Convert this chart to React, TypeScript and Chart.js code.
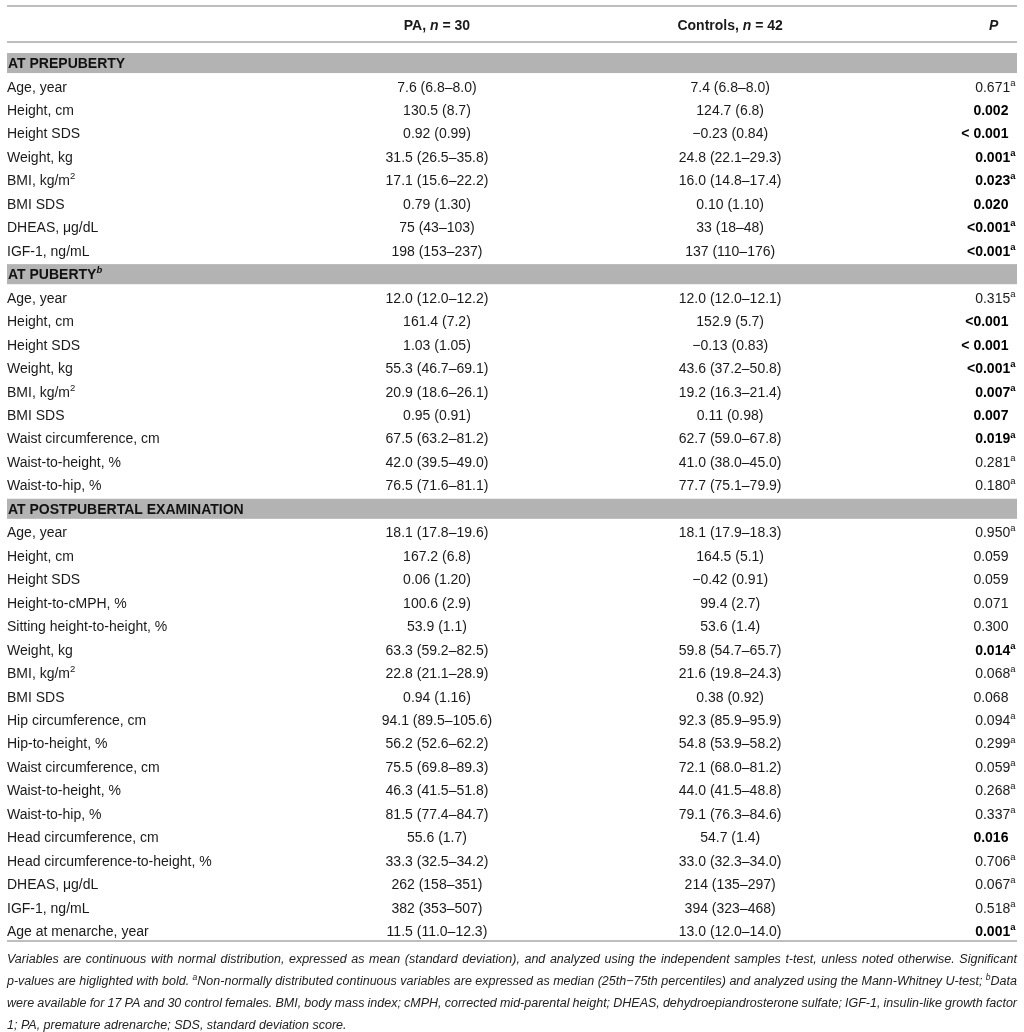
import React, { useEffect, useRef } from "react";
import { Chart, registerables } from "chart.js";

Chart.register(...registerables);

// ---------- data ----------
const columnHeaders = ["PA, _n_ = 30", "Controls, _n_ = 42", "_P_"];

const sectionTitles = ["AT PREPUBERTY", "AT PUBERTY^b", "AT POSTPUBERTAL EXAMINATION"];
const sectionSizes = [8, 9, 18];

const variables = [
  "Age, year", "Height, cm", "Height SDS", "Weight, kg", "BMI, kg/m^2", "BMI SDS", "DHEAS, μg/dL", "IGF-1, ng/mL",
  "Age, year", "Height, cm", "Height SDS", "Weight, kg", "BMI, kg/m^2", "BMI SDS", "Waist circumference, cm", "Waist-to-height, %", "Waist-to-hip, %",
  "Age, year", "Height, cm", "Height SDS", "Height-to-cMPH, %", "Sitting height-to-height, %", "Weight, kg", "BMI, kg/m^2", "BMI SDS",
  "Hip circumference, cm", "Hip-to-height, %", "Waist circumference, cm", "Waist-to-height, %", "Waist-to-hip, %", "Head circumference, cm",
  "Head circumference-to-height, %", "DHEAS, μg/dL", "IGF-1, ng/mL", "Age at menarche, year",
];

const paValues = [
  "7.6 (6.8–8.0)", "130.5 (8.7)", "0.92 (0.99)", "31.5 (26.5–35.8)", "17.1 (15.6–22.2)", "0.79 (1.30)", "75 (43–103)", "198 (153–237)",
  "12.0 (12.0–12.2)", "161.4 (7.2)", "1.03 (1.05)", "55.3 (46.7–69.1)", "20.9 (18.6–26.1)", "0.95 (0.91)", "67.5 (63.2–81.2)", "42.0 (39.5–49.0)", "76.5 (71.6–81.1)",
  "18.1 (17.8–19.6)", "167.2 (6.8)", "0.06 (1.20)", "100.6 (2.9)", "53.9 (1.1)", "63.3 (59.2–82.5)", "22.8 (21.1–28.9)", "0.94 (1.16)",
  "94.1 (89.5–105.6)", "56.2 (52.6–62.2)", "75.5 (69.8–89.3)", "46.3 (41.5–51.8)", "81.5 (77.4–84.7)", "55.6 (1.7)",
  "33.3 (32.5–34.2)", "262 (158–351)", "382 (353–507)", "11.5 (11.0–12.3)",
];

const controlValues = [
  "7.4 (6.8–8.0)", "124.7 (6.8)", "−0.23 (0.84)", "24.8 (22.1–29.3)", "16.0 (14.8–17.4)", "0.10 (1.10)", "33 (18–48)", "137 (110–176)",
  "12.0 (12.0–12.1)", "152.9 (5.7)", "−0.13 (0.83)", "43.6 (37.2–50.8)", "19.2 (16.3–21.4)", "0.11 (0.98)", "62.7 (59.0–67.8)", "41.0 (38.0–45.0)", "77.7 (75.1–79.9)",
  "18.1 (17.9–18.3)", "164.5 (5.1)", "−0.42 (0.91)", "99.4 (2.7)", "53.6 (1.4)", "59.8 (54.7–65.7)", "21.6 (19.8–24.3)", "0.38 (0.92)",
  "92.3 (85.9–95.9)", "54.8 (53.9–58.2)", "72.1 (68.0–81.2)", "44.0 (41.5–48.8)", "79.1 (76.3–84.6)", "54.7 (1.4)",
  "33.0 (32.3–34.0)", "214 (135–297)", "394 (323–468)", "13.0 (12.0–14.0)",
];

const pValues = [
  "0.671", "0.002", "< 0.001", "0.001", "0.023", "0.020", "<0.001", "<0.001",
  "0.315", "<0.001", "< 0.001", "<0.001", "0.007", "0.007", "0.019", "0.281", "0.180",
  "0.950", "0.059", "0.059", "0.071", "0.300", "0.014", "0.068", "0.068",
  "0.094", "0.299", "0.059", "0.268", "0.337", "0.016",
  "0.706", "0.067", "0.518", "0.001",
];

const pSuperscripts = [
  "a", "", "", "a", "a", "", "a", "a",
  "a", "", "", "a", "a", "", "a", "a", "a",
  "a", "", "", "", "", "a", "a", "",
  "a", "a", "a", "a", "a", "",
  "a", "a", "a", "a",
];

const pSignificant = [
  false, true, true, true, true, true, true, true,
  false, true, true, true, true, true, true, false, false,
  false, false, false, false, false, true, false, false,
  false, false, false, false, false, true,
  false, false, false, true,
];

const footnoteLines = [
  "Variables are continuous with normal distribution, expressed as mean (standard deviation), and analyzed using the independent samples t-test, unless noted otherwise. Significant",
  "p-values are higlighted with bold. ^aNon-normally distributed continuous variables are expressed as median (25th−75th percentiles) and analyzed using the Mann-Whitney U-test; ^bData",
  "were available for 17 PA and 30 control females. BMI, body mass index; cMPH, corrected mid-parental height; DHEAS, dehydroepiandrosterone sulfate; IGF-1, insulin-like growth factor",
  "1; PA, premature adrenarche; SDS, standard deviation score.",
];

// ---------- layout / style ----------
const FAMILY = '"Liberation Sans", Arial, Helvetica, sans-serif';
const TEXT = "#1a1a1a";
const RULE = "#a8a8a8";
const BAND = "#b3b3b3";
const BODY_SIZE = 14;
const FOOT_SIZE = 12.5;
// column anchors as fractions of the table width (x scale 0..1)
const COL_PA = 0.4257;
const COL_CTRL = 0.716;
const COL_P_HEADER = 0.977;
const COL_P_RIGHT = 0.9985;
const COL_P_RIGHT_NOSUP = 0.9915;

type Seg = { text: string; italic: boolean; sup: boolean };

function parseRich(s: string, baseItalic = false): Seg[] {
  const segs: Seg[] = [];
  let italic = baseItalic;
  let buf = "";
  const flush = () => {
    if (buf) segs.push({ text: buf, italic, sup: false });
    buf = "";
  };
  for (let i = 0; i < s.length; i++) {
    const c = s[i];
    if (c === "_") {
      flush();
      italic = !italic;
    } else if (c === "^" && i + 1 < s.length) {
      flush();
      segs.push({ text: s[i + 1], italic, sup: true });
      i++;
    } else buf += c;
  }
  flush();
  return segs;
}

function fontStr(size: number, bold: boolean, italic: boolean) {
  return `${italic ? "italic " : ""}${bold ? "bold " : ""}${size}px ${FAMILY}`;
}

function segSize(size: number, sup: boolean) {
  return sup ? Math.round(size * 0.68 * 10) / 10 : size;
}

function measureRich(ctx: CanvasRenderingContext2D, segs: Seg[], size: number, bold: boolean) {
  let w = 0;
  for (const s of segs) {
    ctx.font = fontStr(segSize(size, s.sup), bold, s.italic);
    w += ctx.measureText(s.text).width;
  }
  return w;
}

function drawRich(
  ctx: CanvasRenderingContext2D,
  segs: Seg[],
  x: number,
  y: number,
  size: number,
  bold: boolean,
  align: "left" | "center" | "right"
) {
  const w = measureRich(ctx, segs, size, bold);
  let cx = align === "left" ? x : align === "center" ? x - w / 2 : x - w;
  ctx.textAlign = "left";
  ctx.textBaseline = "alphabetic";
  for (const s of segs) {
    ctx.font = fontStr(segSize(size, s.sup), bold, s.italic);
    const yy = s.sup ? y - size * 0.42 : y;
    ctx.fillText(s.text, cx, yy);
    cx += ctx.measureText(s.text).width;
  }
  return w;
}

const tablePlugin = {
  id: "tablePlugin",
  afterDraw(chart: any) {
    const ctx: CanvasRenderingContext2D = chart.ctx;
    const xs = chart.scales.x;
    const ys = chart.scales.y;
    const area = chart.chartArea;
    const rows: any[] = chart.data.rows;
    const left = xs.getPixelForValue(0);
    const right = xs.getPixelForValue(1);
    const rowH = ys.getPixelForValue(1) - ys.getPixelForValue(0);
    const base = BODY_SIZE * 0.36; // baseline offset from row center

    ctx.save();
    ctx.fillStyle = "#ffffff";
    ctx.fillRect(0, 0, chart.width, chart.height);

    // rules
    ctx.strokeStyle = RULE;
    ctx.lineWidth = 1.6;
    const hline = (y: number) => {
      ctx.beginPath();
      ctx.moveTo(left, y);
      ctx.lineTo(right, y);
      ctx.stroke();
    };
    hline(area.top - 45.3);
    hline(area.top - 9.3);
    hline(area.bottom - 1.8);

    // header
    ctx.fillStyle = TEXT;
    const headY = area.top - 26 + base;
    drawRich(ctx, parseRich(columnHeaders[0]), xs.getPixelForValue(COL_PA), headY, BODY_SIZE, true, "center");
    drawRich(ctx, parseRich(columnHeaders[1]), xs.getPixelForValue(COL_CTRL), headY, BODY_SIZE, true, "center");
    drawRich(ctx, parseRich(columnHeaders[2]), xs.getPixelForValue(COL_P_HEADER), headY, BODY_SIZE, true, "center");

    rows.forEach((r, i) => {
      const cy = ys.getPixelForValue(i);
      const y = cy + base;
      if (r.kind === "section") {
        ctx.fillStyle = BAND;
        ctx.fillRect(left, cy - rowH / 2 + 1.7, right - left, rowH - 3.4);
        ctx.fillStyle = "#111";
        const segs = parseRich(r.title).map((s) => (s.sup ? { ...s, italic: true } : s));
        drawRich(ctx, segs, left + 1, y, BODY_SIZE, true, "left");
        return;
      }
      ctx.fillStyle = TEXT;
      drawRich(ctx, parseRich(r.label), left, y, BODY_SIZE, false, "left");
      drawRich(ctx, parseRich(r.pa), xs.getPixelForValue(COL_PA), y, BODY_SIZE, false, "center");
      drawRich(ctx, parseRich(r.ctrl), xs.getPixelForValue(COL_CTRL), y, BODY_SIZE, false, "center");
      const pText = r.p + (r.sup ? "^" + r.sup : "");
      const px = xs.getPixelForValue(r.sup ? COL_P_RIGHT : COL_P_RIGHT_NOSUP);
      ctx.fillStyle = r.bold ? "#000" : TEXT;
      drawRich(ctx, parseRich(pText), px, y, BODY_SIZE, r.bold, "right");
    });

    // footnote (justified)
    ctx.fillStyle = "#222";
    const width = right - left;
    footnoteLines.forEach((line, li) => {
      const fy = area.bottom + 16 + li * 22 + FOOT_SIZE * 0.36;
      const words = line.split(" ").map((w) => parseRich(w, true));
      const last = li === footnoteLines.length - 1;
      if (last) {
        drawRich(ctx, parseRich(line, true), left, fy, FOOT_SIZE, false, "left");
        return;
      }
      const widths = words.map((w) => measureRich(ctx, w, FOOT_SIZE, false));
      const total = widths.reduce((a, b) => a + b, 0);
      const gap = (width - total) / (words.length - 1);
      let x = left;
      words.forEach((w, wi) => {
        drawRich(ctx, w, x, fy, FOOT_SIZE, false, "left");
        x += widths[wi] + gap;
      });
    });
    ctx.restore();
  },
};

function buildRows() {
  const rows: any[] = [];
  let k = 0;
  sectionTitles.forEach((title, si) => {
    rows.push({ kind: "section", title });
    for (let j = 0; j < sectionSizes[si]; j++, k++) {
      rows.push({
        kind: "data",
        label: variables[k],
        pa: paValues[k],
        ctrl: controlValues[k],
        p: pValues[k],
        sup: pSuperscripts[k],
        bold: pSignificant[k],
      });
    }
  });
  return rows;
}

export default function App() {
  const ref = useRef<HTMLCanvasElement | null>(null);
  useEffect(() => {
    if (!ref.current) return;
    const rows = buildRows();
    const chart = new Chart(ref.current, {
      type: "scatter",
      data: {
        labels: rows.map((r) => (r.kind === "section" ? r.title : r.label)),
        datasets: [{ data: [], pointRadius: 0 }],
        rows,
      } as any,
      options: {
        responsive: false,
        maintainAspectRatio: false,
        animation: false,
        layout: { padding: { top: 51.3, bottom: 89.2, left: 7, right: 7 } },
        plugins: { legend: { display: false }, tooltip: { enabled: false } },
        scales: {
          x: { type: "linear", min: 0, max: 1, display: false },
          y: { type: "category", offset: true, display: false },
        },
      },
      plugins: [tablePlugin],
    });
    return () => chart.destroy();
  }, []);
  return (
    <div style={{ position: "absolute", left: 0, top: 0, width: 1024, height: 1032, background: "#fff" }}>
      <canvas ref={ref} width={1024} height={1032} style={{ display: "block" }} />
    </div>
  );
}
